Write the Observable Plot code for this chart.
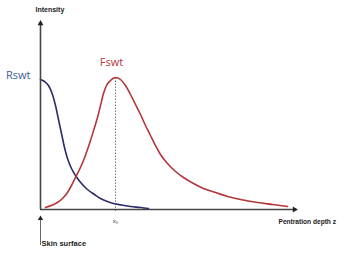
<!DOCTYPE html>
<html><head><meta charset="utf-8">
<script src="https://cdn.jsdelivr.net/npm/d3@7"></script>
<script src="https://cdn.jsdelivr.net/npm/@observablehq/plot@0.6"></script>
<style>html,body{margin:0;padding:0;background:#fff}</style>
</head><body><div id="chart"></div>
<script>
const rswtDepth = [0, 4, 8, 12, 15, 18, 21, 24, 27, 31, 35, 41, 47, 54, 60, 67, 73, 81, 90, 100, 108];
const rswtIntensity = [130, 128, 124, 115, 104, 90, 76, 62, 51, 41, 34, 26, 20, 15, 11, 8, 6, 4.5, 3, 2, 1];
const fswtDepth = [5, 12, 17, 22, 27, 31, 35, 39, 43, 47, 50, 54, 57, 60, 63, 66, 70, 75, 80, 85, 90, 95, 100, 105, 110, 115, 120, 127, 135, 143, 153, 163, 175, 187, 200, 217, 232, 247];
const fswtIntensity = [2, 4.5, 7, 11, 17, 24, 32, 40, 49, 60, 69, 82, 92, 104, 116, 124, 129, 132, 130, 124, 115, 105, 95, 84, 74, 64, 55, 46, 38, 32, 26, 21, 17, 13, 10, 7, 5, 3];
const peakDepth = 75;
const xMax = 256, yMax = 188;

const rswt = rswtDepth.map((d, i) => ({depth: d, intensity: rswtIntensity[i]}));
const fswt = fswtDepth.map((d, i) => ({depth: d, intensity: fswtIntensity[i]}));
const peak = fswt.find(d => d.depth === peakDepth);

const chart = Plot.plot({
  width: 350, height: 259,
  marginLeft: 40, marginRight: 54, marginTop: 21, marginBottom: 50,
  x: {domain: [0, xMax], axis: null},
  y: {domain: [0, yMax], axis: null},
  style: {fontFamily: "Liberation Sans, Arial, sans-serif", background: "#fff"},
  marks: [
    Plot.ruleX([peak], {x: "depth", y1: -2, y2: "intensity", stroke: "#777", strokeDasharray: "1.5,1.5", strokeWidth: 1}),
    Plot.line(rswt, {x: "depth", y: "intensity", curve: "monotone-x", stroke: "#2b2c6b", strokeWidth: 1.6}),
    Plot.line(fswt, {x: "depth", y: "intensity", curve: "monotone-x", stroke: "#b3363a", strokeWidth: 1.6}),
    Plot.ruleY([0], {x1: 0, x2: xMax - 3, stroke: "#444", strokeWidth: 1.6}),
    Plot.ruleX([0], {y1: 0, y2: yMax - 3, stroke: "#444", strokeWidth: 1.6}),
    Plot.dot([{x: xMax - 2, y: 0}], {x: "x", y: "y", symbol: "triangle", r: 2.2, fill: "#222", stroke: null, rotate: 90}),
    Plot.dot([{x: 0, y: yMax - 2}], {x: "x", y: "y", symbol: "triangle", r: 2.2, fill: "#222", stroke: null}),
    Plot.ruleX([0], {y1: -36, y2: -10, stroke: "#444", strokeWidth: 0.8}),
    Plot.dot([{x: 0, y: -9}], {x: "x", y: "y", symbol: "triangle", r: 2, fill: "#222", stroke: null}),
    Plot.text(["Intensity"], {x: -5, y: 200, text: d => d, textAnchor: "start", fontSize: 7, fontWeight: "bold", fill: "#222"}),
    Plot.text(["Pentration depth z"], {x: 238, y: -12, text: d => d, textAnchor: "start", fontSize: 6.6, fontWeight: "bold", fill: "#222"}),
    Plot.text(["Skin surface"], {x: 1, y: -34, text: d => d, textAnchor: "start", fontSize: 7.5, fontWeight: "bold", fill: "#222"}),
    Plot.text(["x₀"], {x: peakDepth, y: -12, text: d => d, fontSize: 6, fill: "#333"}),
    Plot.text(["Rswt"], {x: -10, y: 134, text: d => d, textAnchor: "end", fontSize: 11, fill: "#3b5d92", fontFamily: "Open Sans, sans-serif"}),
    Plot.text(["Fswt"], {x: 71, y: 147, text: d => d, fontSize: 11, fill: "#b3363a", fontFamily: "Open Sans, sans-serif"})
  ]
});
chart.style.overflow = "visible";
document.getElementById("chart").append(chart);
</script>
</body></html>
